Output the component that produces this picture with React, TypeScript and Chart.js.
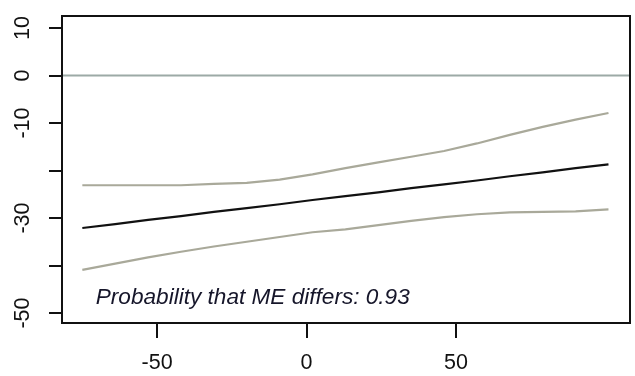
import React, { useEffect, useRef } from "react";
import { Chart, registerables } from "chart.js";

Chart.register(...registerables);

const xValues = [-75, -64, -53, -42, -31, -20, -9, 2, 13, 24, 35, 46, 57, 68, 79, 90, 101];
const meanValues = [-32.1, -31.3, -30.4, -29.6, -28.7, -27.9, -27.1, -26.2, -25.4, -24.6, -23.7, -22.9, -22.1, -21.2, -20.4, -19.5, -18.7];
const upperValues = [-23.1, -23.1, -23.1, -23.1, -22.8, -22.6, -21.9, -20.8, -19.5, -18.3, -17.1, -15.9, -14.3, -12.5, -10.8, -9.3, -7.9];
const lowerValues = [-40.9, -39.6, -38.3, -37.1, -36.0, -35.0, -34.0, -33.0, -32.4, -31.5, -30.6, -29.8, -29.2, -28.8, -28.7, -28.6, -28.2];
const xTicks = [-50, 0, 50];
const yTicks = [-50, -40, -30, -20, -10, 0, 10];
const yTickLabels = ["-50", "", "-30", "", "-10", "0", "10"];
const annotationText = "Probability that ME differs: 0.93";
const annotationX = -70.5;
const annotationY = -48.1;
const refLineY = 0;

const FONT = '"Liberation Sans", Arial, sans-serif';

export default function App() {
  const ref = useRef<HTMLCanvasElement | null>(null);
  useEffect(() => {
    document.body.style.margin = "0";
    const canvas = ref.current!;
    const toXY = (vals: number[]) => xValues.map((x, i) => ({ x, y: vals[i] }));

    const overlay = {
      id: "overlay",
      beforeDatasetsDraw(chart: any) {
        const { ctx, chartArea, scales } = chart;
        const yPix = scales.y.getPixelForValue(refLineY);
        ctx.save();
        ctx.strokeStyle = "#9caaa6";
        ctx.lineWidth = 2;
        ctx.beginPath();
        ctx.moveTo(chartArea.left, yPix);
        ctx.lineTo(chartArea.right, yPix);
        ctx.stroke();
        ctx.restore();
      },
      afterDraw(chart: any) {
        const { ctx, chartArea, scales } = chart;
        ctx.save();
        ctx.strokeStyle = "#111";
        ctx.lineWidth = 2;
        ctx.strokeRect(chartArea.left, chartArea.top, chartArea.right - chartArea.left, chartArea.bottom - chartArea.top);
        ctx.fillStyle = "#111";
        ctx.font = `21.5px ${FONT}`;
        ctx.textAlign = "center";
        ctx.textBaseline = "middle";
        xTicks.forEach((v) => {
          ctx.fillText(String(v), scales.x.getPixelForValue(v), 363);
        });
        yTicks.forEach((v, i) => {
          const lab = yTickLabels[i];
          if (!lab) return;
          const yp = scales.y.getPixelForValue(v);
          ctx.save();
          ctx.translate(23, yp);
          ctx.rotate(-Math.PI / 2);
          ctx.fillText(lab, 0, 0);
          ctx.restore();
        });
        ctx.font = `italic 22.6px ${FONT}`;
        ctx.textAlign = "left";
        ctx.textBaseline = "alphabetic";
        ctx.fillStyle = "#16162a";
        ctx.fillText(annotationText, scales.x.getPixelForValue(annotationX), scales.y.getPixelForValue(annotationY));
        ctx.restore();
      },
    };

    const chart = new Chart(canvas, {
      type: "line",
      data: {
        datasets: [
          { data: toXY(upperValues), borderColor: "#a9a99a", borderWidth: 2.2, pointRadius: 0, fill: false, tension: 0 },
          { data: toXY(meanValues), borderColor: "#111111", borderWidth: 2.2, pointRadius: 0, fill: false, tension: 0 },
          { data: toXY(lowerValues), borderColor: "#a9a99a", borderWidth: 2.2, pointRadius: 0, fill: false, tension: 0 },
        ],
      },
      options: {
        animation: false,
        responsive: false,
        devicePixelRatio: 1,
        layout: { padding: { top: 16, right: 5, left: 0, bottom: 0 } },
        plugins: { legend: { display: false }, tooltip: { enabled: false } },
        scales: {
          x: {
            type: "linear",
            min: -81.8,
            max: 108.2,
            border: { display: false },
            grid: { drawOnChartArea: false, drawTicks: true, tickLength: 15, color: "#111", lineWidth: 2 },
            ticks: { color: "transparent", font: { size: 1 } },
            afterBuildTicks: (s: any) => { s.ticks = xTicks.map((v) => ({ value: v })); },
            afterFit: (s: any) => { s.height = 53; },
          },
          y: {
            type: "linear",
            min: -52.1,
            max: 12.53,
            border: { display: false },
            grid: { drawOnChartArea: false, drawTicks: true, tickLength: 13, color: "#111", lineWidth: 2 },
            ticks: { color: "transparent", font: { size: 1 } },
            afterBuildTicks: (s: any) => { s.ticks = yTicks.map((v) => ({ value: v })); },
            afterFit: (s: any) => { s.width = 62; },
          },
        },
      },
      plugins: [overlay],
    });
    return () => chart.destroy();
  }, []);
  return <canvas ref={ref} width={635} height={376} style={{ display: "block" }} />;
}
